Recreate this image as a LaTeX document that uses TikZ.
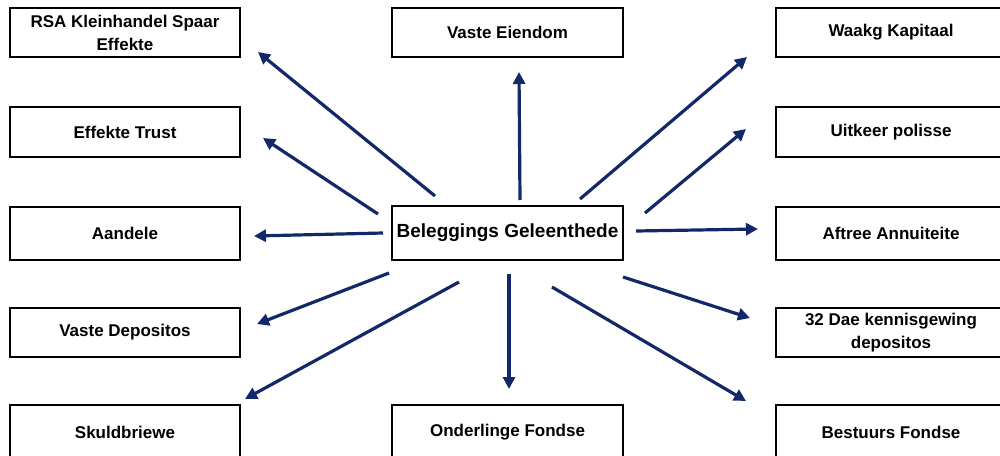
\documentclass[tikz,border=0pt]{standalone}
\usepackage{fontspec}
\setmainfont{Liberation Sans}
\usetikzlibrary{arrows.meta}
\definecolor{navy}{RGB}{18,40,104}
\tikzset{
  box/.style={draw=black, line width=2pt, fill=white, inner sep=0pt, align=center,
    font=\fontsize{17}{23}\selectfont\bfseries, minimum width=230pt},
  mainbox/.style={box, font=\fontsize{19}{23}\selectfont\bfseries},
  conn/.style={draw=navy, line width=3.2pt, -{Triangle[length=12pt,width=12pt]}}
}
\begin{document}
\begin{tikzpicture}[x=1pt,y=-1pt]
\useasboundingbox (0,0) rectangle (1000,455);
\clip (0,0) rectangle (1000,455);
% left column
\node[box, minimum height=49pt] (rsa) at (125,32.5) {RSA Kleinhandel Spaar\\Effekte};
\node[box, minimum height=50pt] (trust) at (125,132) {Effekte Trust};
\node[box, minimum height=53pt] (aandele) at (125,233.5) {Aandele};
\node[box, minimum height=49pt] (depos) at (125,332.5) {Vaste Depositos};
\node[box, minimum height=55pt] (skuld) at (125,432.5) {Skuldbriewe};
% centre column
\node[box, minimum width=231pt, minimum height=49pt] (eiendom) at (507.5,32.5) {Vaste Eiendom};
\node[mainbox, minimum width=231pt, minimum height=54pt] (main) at (507.5,233) {Beleggings Geleenthede};
\node[box, minimum width=231pt, minimum height=55pt] (onder) at (507.5,432.5) {Onderlinge Fondse};
% right column
\node[box, minimum height=49pt] (waakg) at (891,32.5) {Waakg Kapitaal};
\node[box, minimum height=50pt] (uitkeer) at (891,132) {Uitkeer polisse};
\node[box, minimum height=53pt] (aftree) at (891,233.5) {Aftree Annuiteite};
\node[box, minimum height=49pt] (dae) at (891,332.5) {32 Dae kennisgewing\\depositos};
\node[box, minimum height=55pt] (bestuur) at (891,432.5) {Bestuurs Fondse};
% arrow end points
\coordinate (s1) at (435,196);  \coordinate (t1) at (258,52);
\coordinate (s2) at (378,214);  \coordinate (t2) at (263,138);
\coordinate (s3) at (383,233);  \coordinate (t3) at (254,236);
\coordinate (s4) at (520,200);  \coordinate (t4) at (519,72);
\coordinate (s5) at (580,199);  \coordinate (t5) at (747,57);
\coordinate (s6) at (645,213);  \coordinate (t6) at (746,129);
\coordinate (s7) at (636,231);  \coordinate (t7) at (758,229);
\coordinate (s8) at (389,273);  \coordinate (t8) at (257,324);
\coordinate (s9) at (459,282);  \coordinate (t9) at (245,399);
\coordinate (s10) at (509,274); \coordinate (t10) at (509,389);
\coordinate (s11) at (552,287); \coordinate (t11) at (746,401);
\coordinate (s12) at (623,277); \coordinate (t12) at (750,318);
\foreach \i in {1,...,12} { \draw[conn] (s\i) -- (t\i); }
\end{tikzpicture}
\end{document}
